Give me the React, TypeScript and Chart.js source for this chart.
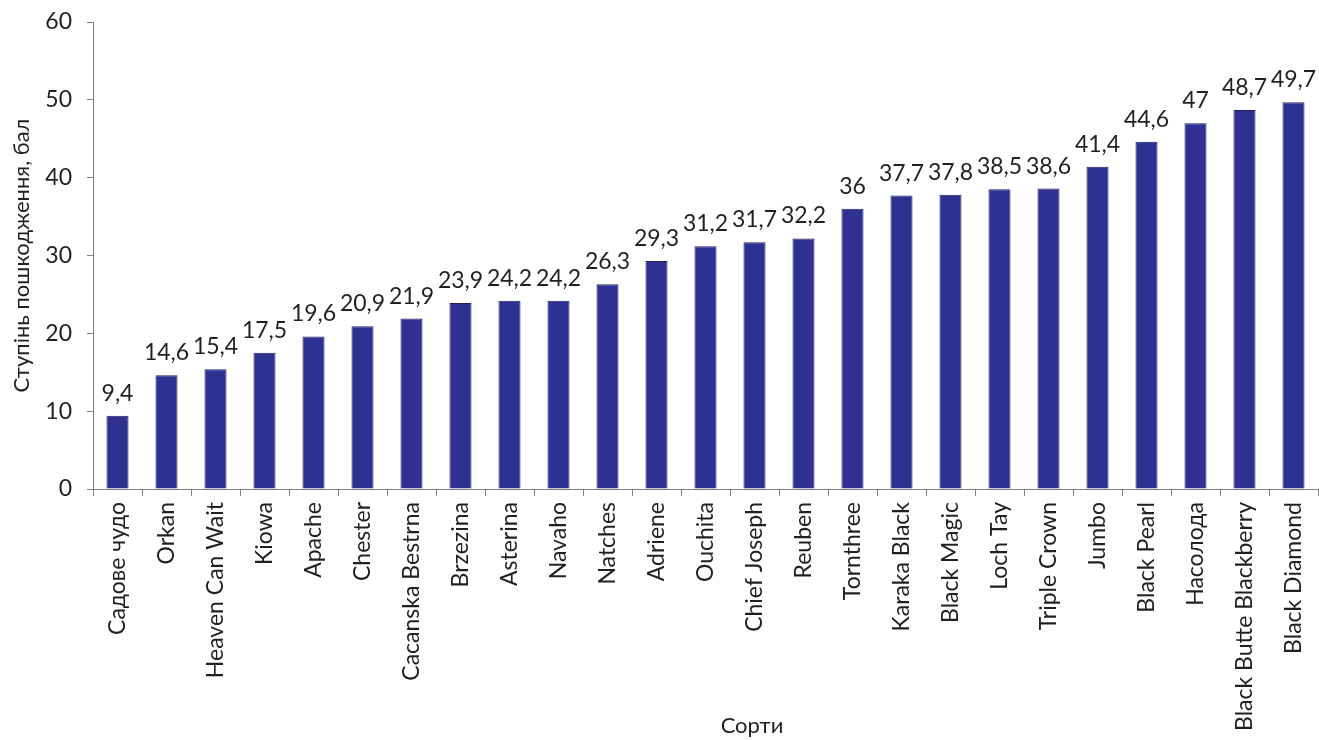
import React, { useEffect, useRef } from "react";
import { Chart, registerables } from "chart.js";

Chart.register(...registerables);

const categories = [
  "Садове чудо", "Orkan", "Heaven Can Wait", "Kiowa", "Apache", "Chester",
  "Cacanska Bestrna", "Brzezina", "Asterina", "Navaho", "Natches", "Adriene",
  "Ouchita", "Chief Joseph", "Reuben", "Tornthree", "Karaka Black", "Black Magic",
  "Loch Tay", "Triple Crown", "Jumbo", "Black Pearl", "Насолода",
  "Black Butte Blackberry", "Black Diamond",
];
const damage = [
  9.4, 14.6, 15.4, 17.5, 19.6, 20.9, 21.9, 23.9, 24.2, 24.2, 26.3, 29.3, 31.2,
  31.7, 32.2, 36, 37.7, 37.8, 38.5, 38.6, 41.4, 44.6, 47, 48.7, 49.7,
];
const yTitle = "Ступінь пошкодження, бал";
const xTitle = "Сорти";

const FONT = "Lato";
const TEXT = "#231f20";
const AXIS = "#808080";

const labelsPlugin = {
  id: "valueLabels",
  afterDatasetsDraw(chart: any) {
    const ctx = chart.ctx;
    const meta = chart.getDatasetMeta(0);
    ctx.save();
    ctx.font = `23px ${FONT}`;
    ctx.fillStyle = TEXT;
    ctx.textAlign = "center";
    ctx.textBaseline = "alphabetic";
    meta.data.forEach((bar: any, i: number) => {
      ctx.fillText(String(damage[i]).replace(".", ","), bar.x, bar.y - 15);
    });
    ctx.restore();
  },
};

const titlesPlugin = {
  id: "axisTitles",
  afterDraw(chart: any) {
    const ctx = chart.ctx;
    const area = chart.chartArea;
    ctx.save();
    ctx.font = `22px ${FONT}`;
    ctx.fillStyle = TEXT;
    ctx.textAlign = "center";
    ctx.textBaseline = "middle";
    ctx.fillText(xTitle, 752, 726);
    ctx.translate(22, (area.top + area.bottom) / 2);
    ctx.rotate(-Math.PI / 2);
    ctx.fillText(yTitle, 0, 0);
    ctx.restore();
  },
};

export default function App() {
  const ref = useRef<HTMLCanvasElement>(null);
  useEffect(() => {
    document.body.style.margin = "0";
    const chart = new Chart(ref.current!, {
      type: "bar",
      data: {
        labels: categories,
        datasets: [
          {
            data: damage,
            backgroundColor: "#2e3192",
            borderColor: "#1f2160",
            borderWidth: 1,
            barPercentage: 0.45,
            categoryPercentage: 1,
          },
        ],
      },
      options: {
        responsive: false,
        animation: false,
        layout: { autoPadding: false, padding: { top: 22, right: 1, left: 0, bottom: 0 } },
        plugins: { legend: { display: false }, tooltip: { enabled: false } },
        scales: {
          x: {
            grid: {
              display: true,
              drawOnChartArea: false,
              drawTicks: true,
              tickLength: 7,
              color: AXIS,
              offset: true,
            },
            border: { display: true, color: AXIS, width: 1 },
            ticks: {
              color: TEXT,
              font: { family: FONT, size: 23 },
              minRotation: 90,
              maxRotation: 90,
              autoSkip: false,
              padding: 6,
            },
            afterFit(scale: any) {
              scale.height = 251;
              scale.paddingLeft = 0;
              scale.paddingRight = 0;
              scale.paddingTop = 0;
              scale.paddingBottom = 0;
            },
          },
          y: {
            min: 0,
            max: 60,
            grid: {
              display: true,
              drawOnChartArea: false,
              drawTicks: true,
              tickLength: 6,
              color: AXIS,
            },
            border: { display: true, color: AXIS, width: 1 },
            ticks: {
              stepSize: 10,
              color: TEXT,
              font: { family: FONT, size: 23 },
              padding: 15,
            },
            afterFit(scale: any) {
              scale.width = 93;
              scale.paddingLeft = 0;
              scale.paddingRight = 0;
              scale.paddingTop = 0;
              scale.paddingBottom = 0;
            },
          },
        },
      },
      plugins: [labelsPlugin, titlesPlugin],
    });
    return () => chart.destroy();
  }, []);
  return <canvas ref={ref} width={1319} height={740} style={{ display: "block" }} />;
}
